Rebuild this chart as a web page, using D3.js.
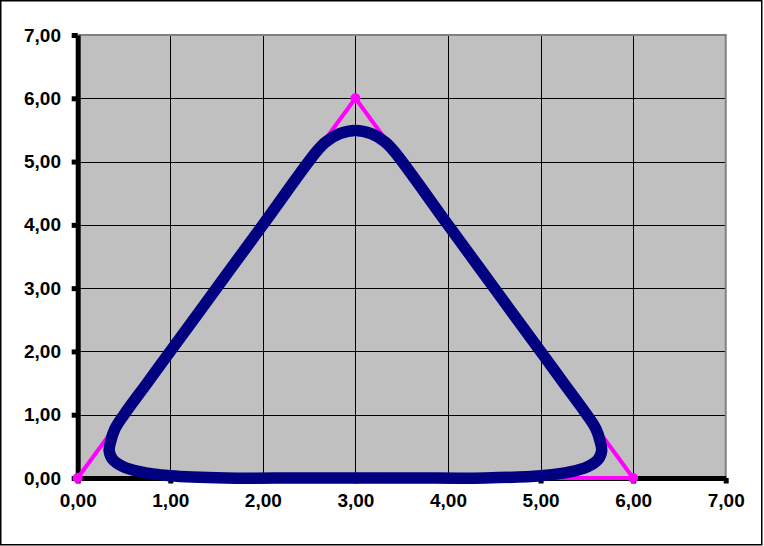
<!DOCTYPE html>
<html><head><meta charset="utf-8">
<script src="https://cdn.jsdelivr.net/npm/d3@7"></script>
<style>html,body{margin:0;padding:0;background:#fff;} svg{display:block;}</style>
</head><body><svg id="c" width="764" height="546"></svg>
<script>
// ---- data ----
const tickValues = [0, 1, 2, 3, 4, 5, 6, 7];
const tickLabels = ["0,00", "1,00", "2,00", "3,00", "4,00", "5,00", "6,00", "7,00"];

// magenta polygon (control triangle)
const triX = [0, 3, 6, 3];
const triY = [0, 6, 0, 0];
// which triangle points carry a marker
const triMarkX = [0, 3, 6];
const triMarkY = [0, 6, 0];

// navy rounded curve (closed)
const navyX = [3.00, 3.17, 3.32, 3.42, 4.00, 4.50, 5.00, 5.25, 5.50, 5.60, 5.645, 5.66, 5.62, 5.51, 5.33, 5.00, 4.40, 3.60, 3.00, 2.40, 1.60, 1.00, 0.67, 0.49, 0.38, 0.34, 0.355, 0.40, 0.50, 0.75, 1.00, 1.50, 2.00, 2.58, 2.68, 2.83];
const navyY = [5.49, 5.44, 5.31, 5.16, 4.00, 3.00, 2.00, 1.50, 1.00, 0.77, 0.57, 0.43, 0.29, 0.18, 0.10, 0.035, 0.00, 0.00, 0.00, 0.00, 0.00, 0.035, 0.10, 0.18, 0.29, 0.43, 0.57, 0.77, 1.00, 1.50, 2.00, 3.00, 4.00, 5.16, 5.31, 5.44];

// ---- drawing ----
const svg = d3.select("#c");
const FONT = "'Liberation Sans', Arial, sans-serif";

svg.append("rect").attr("x", 0.75).attr("y", 0.75).attr("width", 761).attr("height", 544)
  .attr("fill", "#fff").attr("stroke", "#000").attr("stroke-width", 1.5);

const x = d3.scaleLinear().domain([0, 7]).range([77.7, 725.7]);
const y = d3.scaleLinear().domain([0, 7]).range([478, 35]);

// plot area
svg.append("rect").attr("x", x(0)).attr("y", y(7))
  .attr("width", x(7) - x(0)).attr("height", y(0) - y(7)).attr("fill", "#c0c0c0");

// gridlines
const inner = tickValues.filter(v => v > 0 && v < 7);
svg.append("g").selectAll("line.v").data(inner).join("line")
  .attr("x1", d => Math.round(x(d)) + 0.5).attr("x2", d => Math.round(x(d)) + 0.5)
  .attr("y1", y(0)).attr("y2", y(7)).attr("stroke", "#000").attr("stroke-width", 1);
svg.append("g").selectAll("line.h").data(inner).join("line")
  .attr("y1", d => Math.round(y(d)) + 0.5).attr("y2", d => Math.round(y(d)) + 0.5)
  .attr("x1", x(0)).attr("x2", x(7)).attr("stroke", "#000").attr("stroke-width", 1);

// top/right border
svg.append("line").attr("x1", x(0)).attr("x2", x(7) + 1).attr("y1", y(7)).attr("y2", y(7))
  .attr("stroke", "#808080").attr("stroke-width", 2);
svg.append("line").attr("x1", x(7)).attr("x2", x(7)).attr("y1", y(7)).attr("y2", y(0))
  .attr("stroke", "#808080").attr("stroke-width", 2);

// axes
const ax = d3.axisBottom(x).tickValues(tickValues).tickSizeInner(5.5).tickSizeOuter(0)
  .tickPadding(10.5).tickFormat((d, i) => tickLabels[i]);
const ay = d3.axisLeft(y).tickValues(tickValues).tickSizeInner(6).tickSizeOuter(0)
  .tickPadding(10.7).tickFormat((d, i) => tickLabels[i]);

const gx = svg.append("g").attr("transform", `translate(0,${y(0)})`).call(ax);
const gy = svg.append("g").attr("transform", `translate(${x(0)},0)`).call(ay);
[gx, gy].forEach(g => {
  g.select(".domain").attr("stroke", "#000").attr("stroke-width", 5);
  g.selectAll(".tick line").attr("stroke", "#000").attr("stroke-width", 5);
  g.selectAll(".tick text").attr("fill", "#000").style("font-family", FONT)
    .style("font-size", "19px").style("font-weight", "bold");
});

// magenta triangle
const triPts = triX.map((v, i) => [v, triY[i]]);
svg.append("path").datum(triPts)
  .attr("d", d3.line().x(d => x(d[0])).y(d => y(d[1])))
  .attr("fill", "none").attr("stroke", "#ff00ff").attr("stroke-width", 4)
  .attr("stroke-linejoin", "round");
svg.append("g").selectAll("circle").data(triMarkX.map((v, i) => [v, triMarkY[i]])).join("circle")
  .attr("cx", d => x(d[0])).attr("cy", d => y(d[1])).attr("r", 5).attr("fill", "#ff00ff");

// navy curve
const navyPts = navyX.map((v, i) => [v, navyY[i]]);
svg.append("path").datum(navyPts)
  .attr("d", d3.line().x(d => x(d[0])).y(d => y(d[1])).curve(d3.curveCatmullRomClosed.alpha(0.5)))
  .attr("fill", "none").attr("stroke", "#000080").attr("stroke-width", 11.5)
  .attr("stroke-linejoin", "round");
</script>
</body></html>
